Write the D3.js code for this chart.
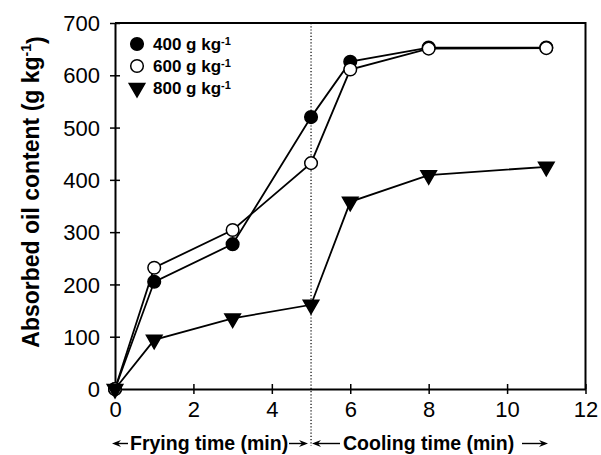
<!DOCTYPE html>
<html>
<head>
<meta charset="utf-8">
<script src="https://cdn.jsdelivr.net/npm/d3@7"></script>
<style>
  body { margin: 0; background: #fff; }
  svg { display: block; font-family: "Liberation Sans", Arial, sans-serif; }
</style>
</head>
<body>
<svg id="chart" width="601" height="455"></svg>
<script>
// ---- data ----
const times = [0, 1, 3, 5, 6, 8, 11];
const oil400 = [0, 205, 277, 520, 626, 653, 653];
const oil600 = [0, 232, 304, 432, 611, 651, 652];
const oil800 = [0, 94, 135, 161, 358, 409, 425];
const seriesNames = ["400 g kg", "600 g kg", "800 g kg"];
const xTicks = [0, 2, 4, 6, 8, 10, 12];
const yTicks = [0, 100, 200, 300, 400, 500, 600, 700];
const dividerTime = 5;

const svg = d3.select("#chart");
const L = 115, R = 585.5, T = 23, B = 389;
const x = d3.scaleLinear().domain([0, 12]).range([L, R]);
const y = d3.scaleLinear().domain([0, 700]).range([B, T]);

// frame (top & right)
svg.append("path")
  .attr("d", `M${L},${T}H${R}V${B}`)
  .attr("fill", "none").attr("stroke", "#000").attr("stroke-width", 2);

// dotted divider
svg.append("line")
  .attr("x1", x(dividerTime)).attr("x2", x(dividerTime))
  .attr("y1", T).attr("y2", 446)
  .attr("stroke", "#000").attr("stroke-width", 1.2)
  .attr("stroke-dasharray", "1.2,2");

// axes
const xAxis = d3.axisBottom(x).tickValues(xTicks).tickFormat(d3.format("d"))
  .tickSizeInner(5).tickSizeOuter(0).tickPadding(9);
const gx = svg.append("g").attr("transform", `translate(0,${B})`).call(xAxis);
const yAxis = d3.axisLeft(y).tickValues(yTicks).tickFormat(d3.format("d"))
  .tickSizeInner(5).tickSizeOuter(0).tickPadding(10);
const gy = svg.append("g").attr("transform", `translate(${L},0)`).call(yAxis);

[gx, gy].forEach(g => {
  g.select(".domain").attr("stroke", "#000").attr("stroke-width", 2);
  g.selectAll(".tick line").attr("stroke", "#000").attr("stroke-width", 1.5);
  g.selectAll(".tick text").attr("fill", "#000")
    .style("font-size", "22px").style("font-family", "'Liberation Sans', Arial, sans-serif");
});
// ticks crossing axis
gx.selectAll(".tick line").attr("y1", -5).attr("y2", 5);
gy.selectAll(".tick line").attr("x1", -5).attr("x2", 5);
gx.selectAll(".tick text").attr("y", 12);
gy.selectAll(".tick text").attr("x", -15).attr("dy", "0.35em");

// y axis label
const yl = svg.append("text")
  .attr("transform", `translate(39,${192}) rotate(-90)`)
  .attr("text-anchor", "middle")
  .style("font-size", "23px").style("font-weight", "bold");
yl.append("tspan").text("Absorbed oil content (g kg");
yl.append("tspan").text("-1").attr("dy", "-0.55em").style("font-size", "14px");
yl.append("tspan").text(")").attr("dy", "0.55em");

// series
const lineGen = d3.line().x((d, i) => x(times[i])).y(d => y(d));
const series = [
  { vals: oil400, sym: d3.symbolCircle, size: 125, fill: "#000" },
  { vals: oil600, sym: d3.symbolCircle, size: 125, fill: "#fff" },
  { vals: oil800, sym: d3.symbolTriangle, size: 105, fill: "#000", flip: true }
];
series.forEach(s => {
  svg.append("path").datum(s.vals).attr("d", lineGen)
    .attr("fill", "none").attr("stroke", "#000").attr("stroke-width", 1.8);
});
series.forEach(s => {
  svg.selectAll(null).data(s.vals).enter().append("path")
    .attr("d", d3.symbol().type(s.sym).size(s.size))
    .attr("transform", (d, i) => `translate(${x(times[i])},${y(d)})${s.flip ? " rotate(180)" : ""}`)
    .attr("fill", s.fill).attr("stroke", "#000").attr("stroke-width", 1.5);
});

// legend
const legY = [44, 66, 88];
series.forEach((s, i) => {
  svg.append("path")
    .attr("d", d3.symbol().type(s.sym).size(s.size))
    .attr("transform", `translate(137,${legY[i]})${s.flip ? " rotate(180)" : ""}`)
    .attr("fill", s.fill).attr("stroke", "#000").attr("stroke-width", 1.5);
  const t = svg.append("text").attr("x", 153).attr("y", legY[i] + 6)
    .style("font-size", "17px").style("font-weight", "bold");
  t.append("tspan").text(seriesNames[i]);
  t.append("tspan").text("-1").attr("dy", "-0.5em").style("font-size", "11px");
});

// bottom phase labels with arrows
const labY = 450, arY = 443.5;
svg.append("text").attr("x", 130).attr("y", labY)
  .style("font-size", "19.5px").style("font-weight", "bold").text("Frying time (min)");
svg.append("text").attr("x", 343).attr("y", labY)
  .style("font-size", "19.5px").style("font-weight", "bold").text("Cooling time (min)");
function arrow(tail, tip) {
  const dir = Math.sign(tip - tail);
  svg.append("line").attr("x1", tail).attr("x2", tip - dir * 3).attr("y1", arY).attr("y2", arY)
    .attr("stroke", "#000").attr("stroke-width", 1.4);
  svg.append("path")
    .attr("d", `M${tip},${arY}L${tip - dir * 9},${arY - 3.5}L${tip - dir * 6},${arY}L${tip - dir * 9},${arY + 3.5}Z`)
    .attr("fill", "#000");
}
arrow(128, 112);
arrow(289, 308);
arrow(340, 312);
arrow(522, 548);
</script>
</body>
</html>
